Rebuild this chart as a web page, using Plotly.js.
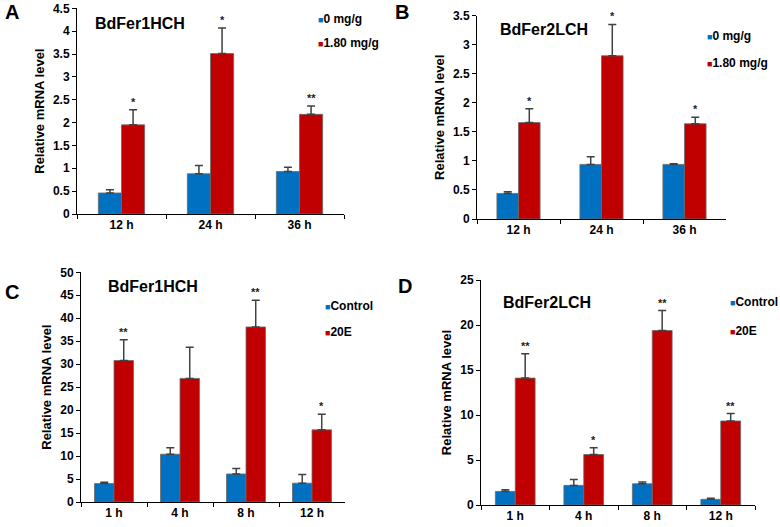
<!DOCTYPE html>
<html>
<head>
<meta charset="utf-8">
<script src="https://cdn.plot.ly/plotly-3.0.1.min.js"></script>
<style>html,body{margin:0;padding:0;background:#fff;}#chart{width:780px;height:527px;}</style>
</head>
<body>
<div id="chart"></div>
<script>
// ---- Data ----
const catsAB = ['12 h', '24 h', '36 h'];
const catsCD = ['1 h', '4 h', '8 h', '12 h'];

const A_ctrl = [0.46, 0.88, 0.93];
const A_ctrlErr = [0.07, 0.18, 0.09];
const A_trt = [1.95, 3.51, 2.18];
const A_trtErr = [0.33, 0.56, 0.18];
const A_sig = ['*', '*', '**'];

const B_ctrl = [0.44, 0.94, 0.94];
const B_ctrlErr = [0.03, 0.13, 0.01];
const B_trt = [1.66, 2.81, 1.64];
const B_trtErr = [0.24, 0.54, 0.11];
const B_sig = ['*', '*', '*'];

const C_ctrl = [4.0, 10.4, 6.1, 4.1];
const C_ctrlErr = [0.3, 1.4, 1.2, 1.9];
const C_trt = [30.8, 26.9, 38.1, 15.7];
const C_trtErr = [4.5, 6.8, 5.8, 3.4];
const C_sig = ['**', '', '**', '*'];

const D_ctrl = [1.51, 2.18, 2.36, 0.63];
const D_ctrlErr = [0.19, 0.66, 0.19, 0.11];
const D_trt = [14.1, 5.61, 19.39, 9.34];
const D_trtErr = [2.7, 0.74, 2.21, 0.82];
const D_sig = ['**', '*', '**', '**'];

const legendAB = ['0 mg/g', '1.80 mg/g'];
const legendCD = ['Control', '20E'];
const genes = ['BdFer1HCH', 'BdFer2LCH', 'BdFer1HCH', 'BdFer2LCH'];
const letters = ['A', 'B', 'C', 'D'];

// ---- Styles ----
const BLUE = '#0070C0', RED = '#C00000';
const FONT = 'Liberation Sans, Arial, sans-serif';

const panels = [
  {cats: catsAB, c: A_ctrl, ce: A_ctrlErr, t: A_trt, te: A_trtErr, sig: A_sig, w: 0.26, xa: 'x', ya: 'y',
   xd: [77/780, 344/780], yd: [1-214/527, 1-8.3/527], yr: [0, 4.5], dt: 0.5, leg: legendAB},
  {cats: catsAB, c: B_ctrl, ce: B_ctrlErr, t: B_trt, te: B_trtErr, sig: B_sig, w: 0.26, xa: 'x2', ya: 'y2',
   xd: [477/780, 726/780], yd: [1-219/527, 1-15.7/527], yr: [0, 3.5], dt: 0.5, leg: legendAB},
  {cats: catsCD, c: C_ctrl, ce: C_ctrlErr, t: C_trt, te: C_trtErr, sig: C_sig, w: 0.295, xa: 'x3', ya: 'y3',
   xd: [81/780, 345/780], yd: [1-502/527, 1-272.3/527], yr: [0, 50], dt: 5, leg: legendCD},
  {cats: catsCD, c: D_ctrl, ce: D_ctrlErr, t: D_trt, te: D_trtErr, sig: D_sig, w: 0.29, xa: 'x4', ya: 'y4',
   xd: [481/780, 755/780], yd: [1-505/527, 1-280/527], yr: [0, 25], dt: 5, leg: legendCD}
];

const traces = [];
const annotations = [];
const layout = {
  width: 780, height: 527,
  margin: {l: 0, r: 0, t: 0, b: 0},
  paper_bgcolor: '#fff', plot_bgcolor: '#fff',
  barmode: 'overlay',
  showlegend: false,
  font: {family: FONT, color: '#000'},
  annotations: annotations
};

// legend / title / letter positions (pixels)
const legPos = [[316, 19, 43], [705, 36, 63], [323, 306, 332], [728, 302, 331]];
const titlePos = [[93, 23], [498, 30], [106, 286], [501, 302]];
const letterPos = [[3, 12], [393, 12], [3, 292], [396, 286]];

panels.forEach((p, k) => {
  const errStyle = (arr) => ({type: 'data', array: arr, symmetric: false, arrayminus: arr.map(() => 0),
    color: '#404040', thickness: 1.5, width: 4});
  traces.push({
    type: 'bar', x: p.cats, y: p.c, width: p.w, offset: -p.w, xaxis: p.xa, yaxis: p.ya,
    marker: {color: BLUE, line: {color: '#6a6a6a', width: 0.8}},
    error_y: errStyle(p.ce), name: p.leg[0], hoverinfo: 'x+y'
  });
  traces.push({
    type: 'bar', x: p.cats, y: p.t, width: p.w, offset: 0, xaxis: p.xa, yaxis: p.ya,
    marker: {color: RED, line: {color: '#6a6a6a', width: 0.8}},
    error_y: errStyle(p.te), name: p.leg[1], hoverinfo: 'x+y'
  });

  const sfx = k === 0 ? '' : String(k + 1);
  layout['xaxis' + sfx] = {
    domain: p.xd, anchor: p.ya, type: 'category', range: [-0.5, p.cats.length - 0.5],
    showline: true, linecolor: '#000', linewidth: 1, ticks: 'outside', ticklen: 4, tickwidth: 1,
    tickcolor: '#000', tickson: 'boundaries', showgrid: false, zeroline: false, fixedrange: true,
    tickfont: {family: FONT, size: 12, color: '#000', weight: 700}
  };
  layout['yaxis' + sfx] = {
    domain: p.yd, anchor: p.xa, range: p.yr, dtick: p.dt, tick0: 0,
    showline: true, linecolor: '#000', linewidth: 1, ticks: 'outside', ticklen: 4, tickwidth: 1,
    tickcolor: '#000', showgrid: false, zeroline: false, fixedrange: true,
    tickfont: {family: FONT, size: 12, color: '#000', weight: 700},
    title: {text: 'Relative mRNA level', font: {family: FONT, size: 13, color: '#000', weight: 700}, standoff: 5}
  };

  // significance stars above treatment bars
  p.sig.forEach((s, i) => {
    if (!s) return;
    annotations.push({
      xref: p.xa, yref: p.ya, x: i + p.w / 2, y: p.t[i] + p.te[i], text: s,
      showarrow: false, yanchor: 'bottom', xanchor: 'center', yshift: 0,
      font: {family: FONT, size: 11, color: '#222', weight: 700}
    });
  });

  // legend entries
  const lp = legPos[k];
  [[BLUE, p.leg[0], lp[1]], [RED, p.leg[1], lp[2]]].forEach(([col, txt, yy]) => {
    annotations.push({
      xref: 'paper', yref: 'paper', x: lp[0] / 780, y: 1 - yy / 527, xanchor: 'left', yanchor: 'middle',
      showarrow: false, align: 'left',
      text: '<span style="color:' + col + ';font-size:9px">■</span>' + txt,
      font: {family: FONT, size: 12, color: '#000', weight: 700}
    });
  });

  // gene name
  annotations.push({
    xref: 'paper', yref: 'paper', x: titlePos[k][0] / 780, y: 1 - titlePos[k][1] / 527,
    xanchor: 'left', yanchor: 'middle', showarrow: false, text: genes[k],
    font: {family: FONT, size: 16, color: '#000', weight: 700}
  });
  // panel letter
  annotations.push({
    xref: 'paper', yref: 'paper', x: letterPos[k][0] / 780, y: 1 - letterPos[k][1] / 527,
    xanchor: 'left', yanchor: 'middle', showarrow: false, text: letters[k],
    font: {family: FONT, size: 20, color: '#000', weight: 700}
  });
});

Plotly.newPlot('chart', traces, layout, {displayModeBar: false, staticPlot: true});
</script>
</body>
</html>
